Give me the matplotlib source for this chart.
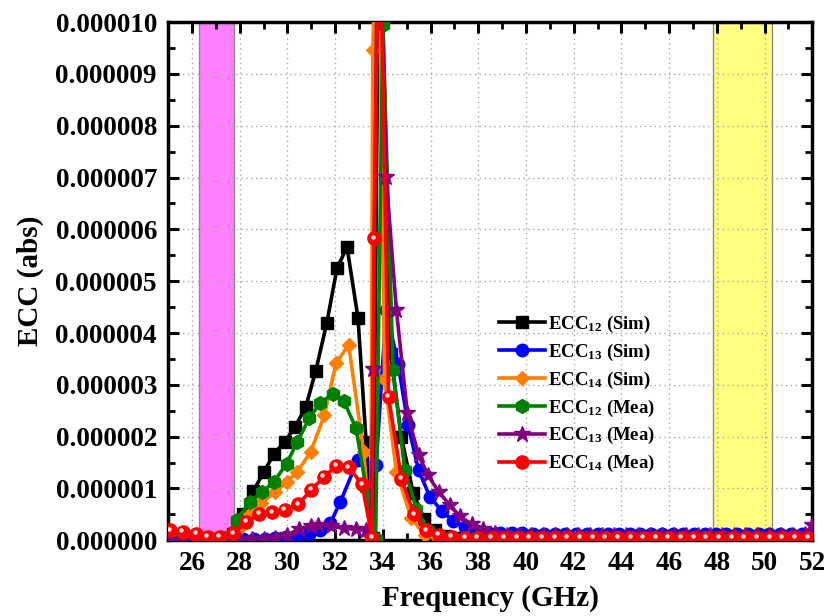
import matplotlib
matplotlib.use('Agg')
import matplotlib.pyplot as plt
from matplotlib.ticker import MultipleLocator, FuncFormatter
from matplotlib.transforms import offset_copy

plt.rcParams['font.family'] = ['Liberation Serif', 'DejaVu Serif']
plt.rcParams['font.weight'] = 'bold'
plt.rcParams['mathtext.fontset'] = 'custom'
plt.rcParams['mathtext.rm'] = 'Liberation Serif:bold'
plt.rcParams['mathtext.bf'] = 'Liberation Serif:bold'
plt.rcParams['mathtext.it'] = 'Liberation Serif:bold:italic'

# ---------------- data (values in units of 1e-6) ----------------
sim_tail_f = [38.0, 38.45, 38.9, 39.35, 39.8, 40.25, 40.7, 41.15, 41.6, 42.05, 42.5,
              42.95, 43.4, 43.85, 44.3, 44.75, 45.2, 45.65, 46.1, 46.55, 47.0, 47.45,
              47.9, 48.35, 48.8, 49.25, 49.7, 50.15, 50.6, 51.05, 51.5, 51.95]

ecc12_sim_f = [25.0, 25.45, 25.9, 26.35, 26.8, 27.25, 27.7, 28.13, 28.57, 29.02, 29.44,
               29.89, 30.31, 30.77, 31.19, 31.65, 32.08, 32.5, 32.96, 33.3, 33.6, 33.85,
               34.33, 34.78, 35.27, 35.73, 36.18, 36.65, 37.1, 37.55] + sim_tail_f
ecc12_sim_v = [0.02, 0.02, 0.02, 0.02, 0.02, 0.03, 0.12, 0.5, 0.95, 1.32, 1.67,
               1.90, 2.18, 2.57, 3.27, 4.19, 5.25, 5.66, 4.29, 1.9, 0.05, 13.0,
               3.6, 1.99, 0.92, 0.41, 0.19, 0.09, 0.05, 0.04] + [0.03] * 32

ecc13_sim_f = [25.0, 25.45, 25.9, 26.35, 26.8, 27.25, 27.7, 28.15, 28.6, 29.05, 29.5,
               29.95, 30.42, 30.91, 31.35, 31.8, 32.22, 32.95, 33.72, 34.14, 34.64,
               35.06, 35.5, 35.97, 36.46, 36.96, 37.44, 37.94, 38.43, 38.92, 39.4,
               39.85, 40.3, 40.75, 41.2, 41.65, 42.1, 42.55, 43.0, 43.45, 43.9, 44.35,
               44.8, 45.25, 45.7, 46.15, 46.6, 47.05, 47.5, 47.95, 48.4, 48.85, 49.3,
               49.75, 50.2, 50.65, 51.1, 51.55, 52.0]
ecc13_sim_v = [0.01, 0.01, 0.01, 0.01, 0.01, 0.01, 0.01, 0.02, 0.02, 0.03, 0.04,
               0.06, 0.08, 0.12, 0.2, 0.33, 0.74, 1.55, 1.45, 4.44, 3.41,
               2.22, 1.35, 0.84, 0.57, 0.37, 0.26, 0.18, 0.14, 0.13, 0.13,
               0.13, 0.12, 0.12, 0.12, 0.12, 0.12, 0.12, 0.12, 0.12, 0.12, 0.12,
               0.12, 0.12, 0.12, 0.12, 0.12, 0.12, 0.12, 0.12, 0.12, 0.12, 0.12,
               0.12, 0.12, 0.12, 0.12, 0.12, 0.14]

ecc14_sim_f = [25.0, 25.45, 25.9, 26.35, 26.8, 27.25, 27.5, 27.95, 28.45, 28.9, 29.5,
               29.97, 30.42, 30.98, 31.55, 32.04, 32.57, 33.2, 33.5, 33.58, 33.8,
               34.07, 34.57, 35.2, 35.76, 36.3, 36.85, 37.4] + sim_tail_f
ecc14_sim_v = [0.02, 0.02, 0.02, 0.02, 0.02, 0.02, 0.03, 0.2, 0.5, 0.72, 0.93,
               1.13, 1.32, 1.71, 2.41, 3.42, 3.77, 1.7, 0.05, 9.47, 13.0,
               3.12, 1.32, 0.42, 0.1, 0.05, 0.04, 0.04] + [0.04] * 32

ecc12_mea_f = [25.0, 25.5, 26.0, 26.5, 27.0, 27.4, 27.87, 28.43, 28.95, 29.44, 29.97,
               30.42, 30.91, 31.38, 31.9, 32.36, 32.88, 33.3, 33.7, 34.0, 34.43,
               34.92, 35.41, 35.9, 36.4, 36.9, 37.4, 37.9, 38.4, 38.9, 39.4, 39.9,
               40.4, 40.9, 41.4, 41.9, 42.4, 42.9, 43.4, 43.9, 44.4, 44.9, 45.4,
               45.9, 46.4, 46.9, 47.4, 47.9, 48.4, 48.9, 49.4, 49.9, 50.4, 50.9,
               51.4, 51.9]
ecc12_mea_v = [0.02, 0.02, 0.02, 0.02, 0.03, 0.05, 0.39, 0.74, 0.93, 1.13, 1.48,
               1.9, 2.35, 2.65, 2.83, 2.69, 2.16, 1.0, 0.02, 9.95, 3.28,
               1.35, 0.61, 0.19, 0.06, 0.05, 0.05, 0.05, 0.05, 0.05, 0.05, 0.05,
               0.05, 0.05, 0.05, 0.05, 0.05, 0.05, 0.05, 0.05, 0.05, 0.05, 0.05,
               0.05, 0.05, 0.05, 0.05, 0.05, 0.05, 0.05, 0.05, 0.05, 0.05, 0.05,
               0.05, 0.05]

ecc13_mea_f = [25.0, 25.5, 26.0, 26.5, 27.0, 27.5, 28.0, 28.5, 29.0, 29.5, 30.0,
               30.5, 31.0, 31.3, 31.83, 32.39, 32.88, 33.3, 33.5, 33.6, 33.8,
               34.14, 34.57, 35.03, 35.5, 35.9, 36.35, 36.81, 37.23, 37.73, 38.22,
               38.71, 39.2, 39.7, 40.2, 40.7, 41.2, 41.7, 42.2, 42.7, 43.2, 43.7,
               44.2, 44.7, 45.2, 45.7, 46.2, 46.7, 47.2, 47.7, 48.2, 48.7, 49.2,
               49.7, 50.2, 50.7, 51.2, 51.7, 52.0]
ecc13_mea_v = [0.01, 0.01, 0.01, 0.01, 0.01, 0.01, 0.01, 0.02, 0.03, 0.05, 0.1,
               0.22, 0.28, 0.3, 0.27, 0.23, 0.21, 0.19, 0.05, 3.3, 13.0,
               7.01, 4.44, 2.45, 1.64, 1.25, 0.93, 0.68, 0.46, 0.31, 0.21,
               0.14, 0.11, 0.1, 0.1, 0.1, 0.1, 0.1, 0.1, 0.1, 0.1, 0.1,
               0.1, 0.1, 0.1, 0.1, 0.1, 0.1, 0.1, 0.1, 0.1, 0.1, 0.1,
               0.1, 0.1, 0.1, 0.1, 0.12, 0.29]

ecc14_mea_f = [25.1, 25.62, 26.18, 26.66, 27.17, 27.74, 28.28, 28.83, 29.37, 29.89,
               30.45, 31.0, 31.52, 32.04, 32.57, 33.13, 33.55, 33.63, 33.85, 34.24,
               34.78, 35.31, 35.83, 36.35, 36.88, 37.45, 37.98, 38.57, 39.1, 39.63,
               40.16, 40.69, 41.22, 41.75, 42.28, 42.81, 43.34, 43.87, 44.4, 44.93,
               45.46, 45.99, 46.52, 47.05, 47.58, 48.11, 48.64, 49.17, 49.7, 50.23,
               50.76, 51.29, 51.82]
ecc14_mea_v = [0.19, 0.16, 0.12, 0.07, 0.06, 0.13, 0.35, 0.51, 0.54, 0.59,
               0.69, 0.97, 1.22, 1.43, 1.41, 1.08, 0.05, 5.83, 13.0, 2.77,
               1.19, 0.5, 0.19, 0.1, 0.06, 0.05, 0.05, 0.05, 0.05, 0.05,
               0.05, 0.05, 0.05, 0.05, 0.05, 0.05, 0.05, 0.05, 0.05, 0.05,
               0.05, 0.05, 0.05, 0.05, 0.05, 0.05, 0.05, 0.05, 0.05, 0.05,
               0.05, 0.05, 0.05]

pink_band = (26.3, 27.75)
yellow_band = (47.85, 50.3)

x_ticks = [26, 28, 30, 32, 34, 36, 38, 40, 42, 44, 46, 48, 50, 52]
scale = 1e-6

# ---------------- figure ----------------
fig = plt.figure(figsize=(8.28, 6.16), dpi=100)
ax = fig.add_axes([0.203, 0.123, 0.778, 0.841])

ax.axvspan(*pink_band, facecolor='#FF80FF', edgecolor='#8a8a8a', lw=1, zorder=0.5)
ax.axvspan(*yellow_band, facecolor='#FFFF80', edgecolor='#8a8a8a', lw=1, zorder=0.5)

def sc(v):
    return [x * scale for x in v]

lw = 2.6
l1, = ax.plot(ecc12_sim_f, sc(ecc12_sim_v), color='black', lw=lw, marker='s', ms=8,
              label='ECC$_{12}$ (Sim)', zorder=3)
l2, = ax.plot(ecc13_sim_f, sc(ecc13_sim_v), color='#0000FF', lw=lw, marker='o', ms=9,
              label='ECC$_{13}$ (Sim)', zorder=3.1)
l3, = ax.plot(ecc14_sim_f, sc(ecc14_sim_v), color='#FF8000', lw=lw, marker='D', ms=7.5,
              label='ECC$_{14}$ (Sim)', zorder=3.2)
l4, = ax.plot(ecc12_mea_f, sc(ecc12_mea_v), color='#008000', lw=lw, marker='h', ms=10,
              label='ECC$_{12}$ (Mea)', zorder=3.3)
l5, = ax.plot(ecc13_mea_f, sc(ecc13_mea_v), color='#800080', lw=lw, marker='*', ms=12,
              label='ECC$_{13}$ (Mea)', zorder=3.4)
l6, = ax.plot(ecc14_mea_f, sc(ecc14_mea_v), color='#FF0000', lw=lw, marker='o', ms=9.5,
              label='ECC$_{14}$ (Mea)', zorder=3.5)
hl_tr = offset_copy(ax.transData, fig=fig, x=-1.0, y=1.2, units='points')
ax.plot(ecc14_mea_f, sc(ecc14_mea_v), ls='none', marker='o', ms=3.2,
        color='#FFE0E0', mec='none', transform=hl_tr, zorder=3.6)

ax.set_xlim(25, 52)
ax.set_ylim(0, 10 * scale)
ax.set_xticks(x_ticks)
ax.xaxis.set_minor_locator(MultipleLocator(1))
ax.yaxis.set_major_locator(MultipleLocator(1e-6))
ax.yaxis.set_minor_locator(MultipleLocator(0.5e-6))
ax.yaxis.set_major_formatter(FuncFormatter(lambda v, p: f'{v:.6f}'))

ax.grid(True, which='major', ls=(0, (1, 2.5)), color='#a8a8a8', lw=1.0)
ax.tick_params(which='both', direction='in', top=True, right=True, labelsize=19.5)
ax.tick_params(which='major', length=8, width=2.2, pad=8)
ax.tick_params(which='minor', length=5, width=2.0)
for s in ax.spines.values():
    s.set_linewidth(2.5)
for t in ax.get_xticklabels() + ax.get_yticklabels():
    t.set_fontweight('bold')

ax.set_xlabel('Frequency (GHz)', fontsize=21, fontweight='bold', labelpad=6)
ax.set_ylabel('ECC (abs)', fontsize=21, fontweight='bold', labelpad=8)

leg = ax.legend(loc='upper left', bbox_to_anchor=(0.513, 0.437), frameon=False,
                prop={'size': 13.5, 'weight': 'bold'}, handlelength=2.5,
                handletextpad=0.15, labelspacing=0.36, borderpad=0, borderaxespad=0)

fig.savefig('out.png', dpi=100)
